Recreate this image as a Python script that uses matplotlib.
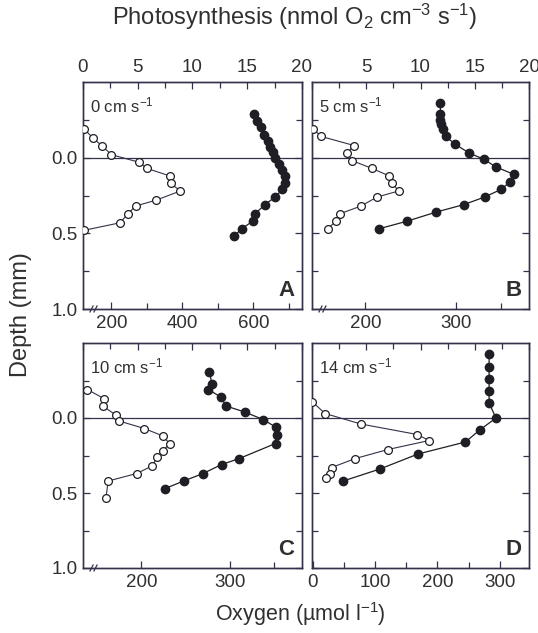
#!/usr/bin/env python3

import matplotlib
matplotlib.use('Agg')
import matplotlib.pyplot as plt
from matplotlib.ticker import FixedLocator, NullFormatter

plt.rcParams['font.family'] = ['Liberation Sans', 'DejaVu Sans']
plt.rcParams['mathtext.default'] = 'regular'

# panel A, 0 cm s-1
A_photo_depth = [-0.19, -0.13, -0.08, -0.02, 0.03, 0.07, 0.12, 0.17, 0.22, 0.28, 0.32, 0.37, 0.43, 0.48]
A_photo = [0.1, 0.9, 1.7, 2.6, 5.1, 5.8, 7.9, 8.0, 8.9, 6.7, 4.8, 4.1, 3.4, 0.1]
A_oxy_depth = [-0.29, -0.24, -0.20, -0.15, -0.11, -0.07, -0.04, 0.0, 0.04, 0.08, 0.12, 0.17,
               0.21, 0.26, 0.31, 0.37, 0.42, 0.47, 0.52]
A_oxy = [602, 609, 621, 631, 641, 647, 654, 661, 673, 682, 690, 690, 682, 661, 633, 605, 598, 567, 545]

# panel B, 5 cm s-1
B_photo_depth = [-0.19, -0.14, -0.08, -0.03, 0.02, 0.07, 0.12, 0.17, 0.22, 0.26, 0.32, 0.37, 0.42, 0.47]
B_photo = [0.1, 0.85, 3.9, 3.2, 3.7, 5.5, 7.1, 7.4, 8.0, 6.0, 4.5, 2.6, 2.2, 1.45]
B_oxy_depth = [-0.36, -0.29, -0.25, -0.22, -0.19, -0.14, -0.09, -0.03, 0.01, 0.06, 0.11, 0.16,
               0.21, 0.26, 0.31, 0.36, 0.42, 0.47]
B_oxy = [283, 283, 283, 284, 286, 289, 299, 315, 331, 344, 364, 360, 350, 332, 309, 278, 246, 215]

# panel C, 10 cm s-1
C_photo_depth = [-0.19, -0.13, -0.08, -0.02, 0.02, 0.07, 0.12, 0.17, 0.22, 0.26, 0.32, 0.37, 0.42, 0.53]
C_photo = [0.4, 1.9, 1.8, 3.0, 3.3, 5.6, 7.3, 7.9, 7.3, 6.8, 6.3, 4.9, 2.3, 2.1]
C_oxy_depth = [-0.31, -0.23, -0.19, -0.14, -0.08, -0.04, 0.01, 0.06, 0.11, 0.17, 0.27, 0.31, 0.37, 0.42, 0.47]
C_oxy = [277, 280, 276, 290, 296, 317, 338, 352, 354, 352, 311, 291, 270, 248, 227]

# panel D, 14 cm s-1
D_photo_depth = [-0.11, -0.03, 0.04, 0.11, 0.15, 0.21, 0.27, 0.33, 0.37, 0.40]
D_photo = [0.0, 1.2, 4.5, 9.7, 10.8, 7.0, 4.0, 1.8, 1.7, 1.3]
D_oxy_depth = [-0.43, -0.34, -0.26, -0.18, -0.10, 0.0, 0.08, 0.16, 0.24, 0.34, 0.42]
D_oxy = [283, 283, 283, 283, 283, 294, 268, 245, 169, 108, 49]

SPINE = '#34314a'
TEXT = '#303030'
DOT = '#1e1e24'


def draw_panel(fig, rect, letter, speed, photo_depth, photo, oxy_depth, oxy,
               xlim, major, minor, top_labels, left_labels, axis_break):
    ax = fig.add_axes(rect)
    ax.set_xlim(*xlim)
    ax.set_ylim(1.0, -0.5)

    ax.axhline(0, color=SPINE, lw=0.9, zorder=1)
    ax.plot(oxy, oxy_depth, '-o', color=DOT, lw=0.9, ms=6.0,
            mfc=DOT, mec=DOT, zorder=3)

    ax.xaxis.set_major_locator(FixedLocator(major))
    ax.xaxis.set_minor_locator(FixedLocator(minor))
    ax.yaxis.set_major_locator(FixedLocator([0.0, 0.5, 1.0]))
    ax.yaxis.set_minor_locator(FixedLocator([-0.25, 0.25, 0.75]))
    ax.yaxis.set_major_formatter(plt.FuncFormatter(lambda v, p: '%.1f' % v))
    if not left_labels:
        ax.yaxis.set_major_formatter(NullFormatter())

    tw = ax.twiny()
    tw.set_xlim(0, 20)
    tw.plot(photo, photo_depth, '-o', color=SPINE, lw=0.8, ms=5.6,
            mfc='white', mec=DOT, mew=0.9, zorder=3)
    tw.xaxis.set_major_locator(FixedLocator([0, 5, 10, 15, 20]))
    tw.xaxis.set_minor_locator(FixedLocator([2.5, 7.5, 12.5, 17.5]))
    if top_labels is None:
        tw.xaxis.set_major_formatter(NullFormatter())
    else:
        tw.xaxis.set_major_formatter(
            plt.FuncFormatter(lambda v, p: '%d' % v if int(v) in top_labels else ''))

    for a in (ax, tw):
        for s in a.spines.values():
            s.set_color(SPINE)
            s.set_linewidth(1.0)
        a.tick_params(which='both', direction='in', color=SPINE, width=0.9,
                      labelsize=13.5, labelcolor=TEXT, pad=4)
        a.tick_params(which='major', length=5)
        a.tick_params(which='minor', length=4)
    ax.tick_params(which='both', left=True, right=True)

    if axis_break:
        for x0 in (0.032, 0.05):
            ax.plot([x0, x0 + 0.014], [-0.013, 0.013], transform=ax.transAxes,
                    color=SPINE, lw=0.9, clip_on=False, zorder=5)

    ax.text(0.03, 0.895, speed, transform=ax.transAxes, fontsize=12,
            color=TEXT, ha='left', va='center')
    ax.text(0.965, 0.035, letter, transform=ax.transAxes, fontsize=16,
            fontweight='bold', color=TEXT, ha='right', va='bottom')
    return ax


def main():
    fig = plt.figure(figsize=(5.38, 6.33), dpi=100)

    left1, w1 = 83 / 538, 219 / 538
    left2, w2 = 312 / 538, 217 / 538
    top_b, top_h = 1 - 309 / 633, 227 / 633
    bot_b, bot_h = 1 - 568 / 633, 225 / 633

    draw_panel(fig, [left1, top_b, w1, top_h], 'A', '0 cm s$^{-1}$',
               A_photo_depth, A_photo, A_oxy_depth, A_oxy,
               (120, 737), [200, 400, 600], [300, 500, 700],
               [0, 5, 10, 15, 20], True, True)
    draw_panel(fig, [left2, top_b, w2, top_h], 'B', '5 cm s$^{-1}$',
               B_photo_depth, B_photo, B_oxy_depth, B_oxy,
               (141, 381), [200, 300], [350],
               [5, 10, 15, 20], False, True)
    draw_panel(fig, [left1, bot_b, w1, bot_h], 'C', '10 cm s$^{-1}$',
               C_photo_depth, C_photo, C_oxy_depth, C_oxy,
               (134, 382), [200, 300], [350],
               None, True, True)
    draw_panel(fig, [left2, bot_b, w2, bot_h], 'D', '14 cm s$^{-1}$',
               D_photo_depth, D_photo, D_oxy_depth, D_oxy,
               (-1, 347), [0, 100, 200, 300], [50, 150, 250],
               None, False, False)

    fig.text(295 / 538, 1 - 17 / 633, 'Photosynthesis (nmol O$_2$ cm$^{-3}$ s$^{-1}$)',
             ha='center', va='center', fontsize=17, color=TEXT)
    fig.text(300 / 538, 1 - 614 / 633, 'Oxygen (\u00b5mol l$^{-1}$)',
             ha='center', va='center', fontsize=15.5, color=TEXT)
    fig.text(21 / 538, 1 - 315 / 633, 'Depth (mm)', rotation=90,
             ha='center', va='center', fontsize=17, color=TEXT)

    fig.savefig('out.png', dpi=100, facecolor='white')


if __name__ == '__main__':
    main()
